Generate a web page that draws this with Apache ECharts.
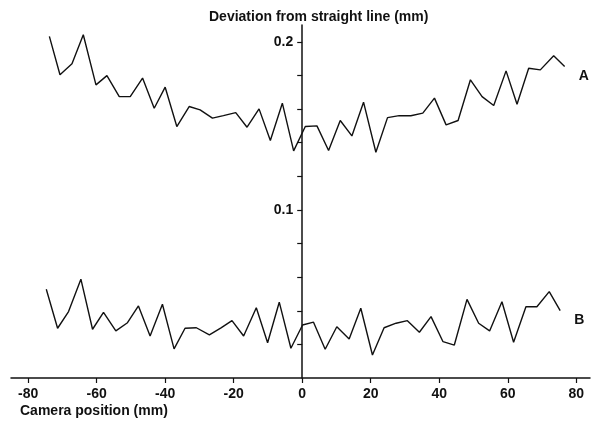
<!DOCTYPE html>
<html>
<head>
<meta charset="utf-8">
<title>Deviation from straight line</title>
<script src="https://cdn.jsdelivr.net/npm/echarts@6/dist/echarts.min.js"></script>
<style>
  html, body { margin: 0; padding: 0; background: #fff; }
  #chart { width: 591px; height: 424px; }
</style>
</head>
<body>
<div id="chart"></div>
<script>
// camera positions (mm) and deviations (mm)
const xA = [-73.8, -70.7, -67.2, -63.9, -60.2, -57.0, -53.4, -50.2, -46.6, -43.2,
  -40.0, -36.6, -33.0, -29.8, -26.2, -23.0, -19.4, -16.1, -12.6, -9.3,
  -5.8, -2.5, 0.9, 4.3, 7.7, 11.1, 14.5, 17.9, 21.5, 24.9,
  28.3, 31.7, 35.2, 38.6, 42.0, 45.5, 49.1, 52.5, 55.9, 59.5,
  62.7, 66.1, 69.5, 73.4, 76.6]
const devA = [0.2032, 0.1804, 0.1869, 0.2042, 0.1744, 0.1799, 0.1674, 0.1674, 0.1784, 0.1605,
  0.1730, 0.1496, 0.1615, 0.1595, 0.1546, 0.1561, 0.1579, 0.1492, 0.1601, 0.1413,
  0.1635, 0.1351, 0.1496, 0.1500, 0.1353, 0.1532, 0.1440, 0.1641, 0.1343, 0.1549,
  0.1561, 0.1560, 0.1576, 0.1665, 0.1506, 0.1532, 0.1774, 0.1674, 0.1621, 0.1827,
  0.1629, 0.1843, 0.1833, 0.1917, 0.1853]

const xB = [-74.7, -71.4, -68.2, -64.6, -61.2, -58.0, -54.4, -51.0, -47.8, -44.4,
  -40.8, -37.4, -34.2, -30.9, -27.1, -23.7, -20.5, -17.1, -13.4, -10.1,
  -6.7, -3.3, 0.1, 3.3, 6.7, 10.1, 13.7, 17.1, 20.5, 23.9,
  27.4, 30.7, 34.2, 37.6, 41.1, 44.4, 48.1, 51.5, 54.7, 58.3,
  61.7, 65.3, 68.5, 72.1, 75.3]
const devB = [0.0528, 0.0296, 0.0395, 0.0588, 0.0290, 0.0391, 0.0280, 0.0329, 0.0429, 0.0250,
  0.0439, 0.0173, 0.0296, 0.0299, 0.0256, 0.0298, 0.0341, 0.0250, 0.0418, 0.0210,
  0.0451, 0.0177, 0.0315, 0.0332, 0.0171, 0.0305, 0.0232, 0.0415, 0.0137, 0.0299,
  0.0326, 0.0341, 0.0272, 0.0365, 0.0216, 0.0196, 0.0468, 0.0326, 0.0280, 0.0454,
  0.0213, 0.0424, 0.0424, 0.0514, 0.0401]

const xTicks = [-80, -60, -40, -20, 0, 20, 40, 60, 80]
const yTicks = [0.02, 0.04, 0.06, 0.08, 0.1, 0.12, 0.14, 0.16, 0.18, 0.2]
const yLabels = [0.1, 0.2]

const font = "'Liberation Sans', Arial, sans-serif"
const ink = '#111'

const xMin = -85
const xMax = 84
const gridLeft = 11
const gridRight = 1
// shift the y axis from the grid's left edge to camera position 0
const plotWidth = 591 - gridLeft - gridRight
const yAxisShift = plotWidth * (0 - xMin) / (xMax - xMin)

function pairs(xs, ys) {
  return xs.map((x, i) => [x, ys[i]])
}

function endLabel() {
  return {
    show: true,
    formatter: '{a}',
    offset: [6, 10],
    fontFamily: font,
    fontSize: 14,
    fontWeight: 'bold',
    color: ink
  }
}

const chart = echarts.init(document.getElementById('chart'), null, { renderer: 'canvas' })

chart.setOption({
  animation: false,
  backgroundColor: '#fff',
  title: [
    {
      text: 'Deviation from straight line (mm)',
      left: 204,
      top: 5,
      textStyle: { fontFamily: font, fontSize: 14, fontWeight: 'bold', color: ink }
    },
    {
      text: 'Camera position (mm)',
      left: 15,
      top: 399,
      textStyle: { fontFamily: font, fontSize: 14, fontWeight: 'bold', color: ink }
    }
  ],
  grid: {
    left: gridLeft,
    right: gridRight,
    top: 25,
    bottom: 46,
    containLabel: false,
    outerBoundsMode: 'none'
  },
  xAxis: {
    type: 'value',
    min: xMin,
    max: xMax,
    splitLine: { show: false },
    axisLine: { onZero: false, lineStyle: { color: ink, width: 1.5 } },
    axisTick: { customValues: xTicks, length: 5, lineStyle: { color: ink, width: 1.2 } },
    axisLabel: {
      customValues: xTicks,
      margin: 9,
      fontFamily: font,
      fontSize: 14,
      fontWeight: 'bold',
      color: ink
    }
  },
  yAxis: {
    type: 'value',
    position: 'left',
    offset: -yAxisShift,
    min: 0,
    max: 0.21,
    splitLine: { show: false },
    axisLine: { onZero: false, lineStyle: { color: ink, width: 1.5 } },
    axisTick: { customValues: yTicks, length: 5, lineStyle: { color: ink, width: 1.2 } },
    axisLabel: {
      customValues: yLabels,
      margin: 9,
      fontFamily: font,
      fontSize: 14,
      fontWeight: 'bold',
      color: ink
    }
  },
  series: [
    {
      name: 'A',
      type: 'line',
      data: pairs(xA, devA),
      showSymbol: false,
      lineStyle: { color: ink, width: 1.4 },
      endLabel: endLabel()
    },
    {
      name: 'B',
      type: 'line',
      data: pairs(xB, devB),
      showSymbol: false,
      lineStyle: { color: ink, width: 1.4 },
      endLabel: endLabel()
    }
  ]
})
</script>
</body>
</html>
